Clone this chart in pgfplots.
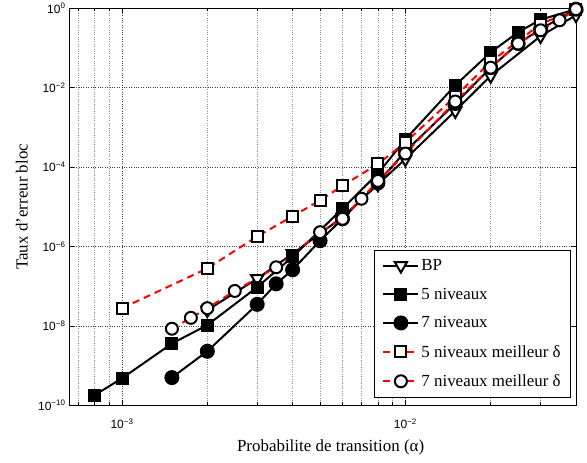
\documentclass[border=0pt]{standalone}
\usepackage{fontspec}
\setmainfont{Liberation Serif}
\newfontfamily\tickfont{Liberation Sans}
\usepackage{pgfplots}
\pgfplotsset{compat=1.18}

\begin{document}
\begin{tikzpicture}
\begin{loglogaxis}[
  scale only axis, width=507bp, height=397bp,
  xmin=6.5e-4, xmax=4e-2, ymin=1e-10, ymax=1,
  xtick={0.001,0.01},
  xticklabels={10\textsuperscript{−3},10\textsuperscript{−2}},
  minor xtick={7e-4,8e-4,9e-4,2e-3,3e-3,4e-3,5e-3,6e-3,7e-3,8e-3,9e-3,2e-2,3e-2},
  ytick={1e-10,1e-8,1e-6,1e-4,1e-2,1},
  yticklabels={10\textsuperscript{−10},10\textsuperscript{−8},10\textsuperscript{−6},10\textsuperscript{−4},10\textsuperscript{−2},10\textsuperscript{0}},
  xmajorgrids, xminorgrids, ymajorgrids,
  major grid style={dotted, black!75, line width=0.6bp},
  minor grid style={dotted, black!45, line width=0.6bp},
  tick align=inside, xtick pos=both, ytick pos=both,
  major tick length=5bp, minor tick length=3bp,
  axis line style={line width=0.9bp},
  every tick/.style={black, line width=0.7bp},
  tick label style={font=\tickfont\fontsize{12}{14}\selectfont},
  xticklabel style={yshift=-10bp},
  xlabel={Probabilite de transition (α)},
  ylabel={Taux d'erreur bloc},
  label style={font=\fontsize{17}{20}\selectfont},
  x label style={at={(axis description cs:0.516,-0.106)}, anchor=center},
  y label style={at={(axis description cs:-0.093,0.5)}, anchor=center},
  clip=false,
  legend style={at={(axis description cs:1,0)}, anchor=south east, xshift=-5bp, yshift=8bp,
    font=\fontsize{17}{20}\selectfont, draw=black, line width=0.8bp,
    row sep=12bp, inner xsep=8bp, inner ysep=7bp, cells={anchor=west}},
  legend image code/.code={\draw[mark repeat=2,mark phase=2,#1] plot coordinates {(0bp,0bp) (17.5bp,0bp) (35bp,0bp)};},
]
\addplot[black, line width=2bp, mark=triangle*, mark size=7bp, mark options={solid, rotate=180, draw=black, fill=white}] coordinates {
(2e-3,2.5e-8) (3e-3,1.55e-7) (4e-3,6.6e-7) (6e-3,5.5e-6) (8e-3,3.7e-5) (1e-2,1.6e-4)
(1.5e-2,2.6e-3) (2e-2,2.0e-2) (3e-2,0.2) (4e-2,0.67)};
\addplot[black, line width=2bp, mark=square*, mark size=5.5bp, mark options={solid, fill=black}] coordinates {
(8e-4,1.8e-10) (1e-3,4.8e-10) (1.5e-3,3.6e-9) (2e-3,1.05e-8) (3e-3,9.5e-8) (4e-3,5.5e-7)
(6e-3,9e-6) (8e-3,6.9e-5) (1e-2,5e-4) (1.5e-2,1.15e-2) (2e-2,7.8e-2) (2.5e-2,0.25)
(3e-2,0.52) (4e-2,0.95)};
\addplot[black, line width=2bp, mark=*, mark size=6.5bp, mark options={solid, fill=black}] coordinates {
(1.5e-3,5e-10) (2e-3,2.3e-9) (3e-3,3.5e-8) (3.5e-3,1.15e-7) (4e-3,2.6e-7) (5e-3,1.4e-6)
(6e-3,5e-6) (8e-3,4e-5) (1e-2,2.5e-4) (1.5e-2,4e-3) (2e-2,3.2e-2) (2.5e-2,0.13)
(3e-2,0.3) (4e-2,0.95)};
\addplot[red, line width=2bp, dash pattern=on 7bp off 5bp, mark=square*, mark size=5.5bp, mark options={solid, draw=black, fill=white}] coordinates {
(1e-3,2.8e-8) (2e-3,2.8e-7) (3e-3,1.8e-6) (4e-3,5.8e-6) (5e-3,1.45e-5) (6e-3,3.4e-5)
(8e-3,1.2e-4) (1e-2,4.2e-4) (1.5e-2,6e-3) (2e-2,4.5e-2) (3e-2,0.4) (4e-2,0.95)};
\addplot[red, line width=2bp, dash pattern=on 7bp off 5bp, mark=*, mark size=6bp, mark options={solid, draw=black, fill=white}] coordinates {
(1.5e-3,8.5e-9) (1.75e-3,1.6e-8) (2e-3,2.8e-8) (2.5e-3,7.6e-8) (3.5e-3,3e-7) (5e-3,2.3e-6)
(6e-3,5e-6) (7e-3,1.6e-5) (8e-3,4.5e-5) (1e-2,2.2e-4) (1.5e-2,4.5e-3) (2e-2,3.2e-2)
(2.5e-2,0.13) (3e-2,0.28) (3.5e-2,0.5) (4e-2,0.95)};
\legend{BP,5 niveaux,7 niveaux,5 niveaux meilleur δ,7 niveaux meilleur δ}
\end{loglogaxis}
\path (current axis.south west) ++(-69bp,-57bp);
\path (current axis.north east) ++(11bp,8bp);
\end{tikzpicture}
\end{document}
